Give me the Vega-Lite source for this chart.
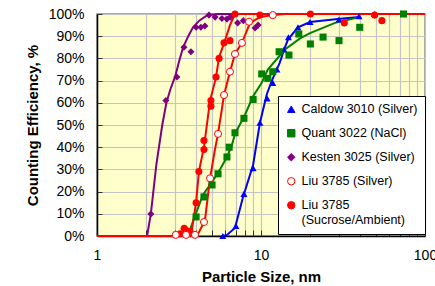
{
  "$schema": "https://vega.github.io/schema/vega-lite/v6.json",
  "autosize": "none",
  "width": 328,
  "height": 222,
  "padding": {"left": 97, "top": 14, "right": 10, "bottom": 50},
  "background": "white",
  "config": {
    "font": "Liberation Sans",
    "view": {"fill": "#FFFFCC", "stroke": "#8C8C8C", "strokeWidth": 1.5},
    "axis": {
      "labelFont": "Liberation Sans",
      "titleFont": "Liberation Sans",
      "labelFontSize": 14,
      "labelColor": "#000000",
      "titleFontSize": 15,
      "titleFontWeight": "bold",
      "titleColor": "#000000",
      "domainColor": "#000000",
      "domainWidth": 1.5,
      "tickColor": "#333333",
      "tickSize": -5,
      "labelPadding": 18,
      "gridColor": "#C4C4C4",
      "gridWidth": 1.2,
      "gridOpacity": 1
    },
    "legend": {
      "fillColor": "#FFFFFF",
      "strokeColor": "#000000",
      "padding": 7,
      "labelFont": "Liberation Sans",
      "labelFontSize": 12.5,
      "labelColor": "#000000",
      "labelLimit": 200,
      "rowPadding": 11,
      "symbolSize": 55,
      "symbolStrokeWidth": 1,
      "labelOffset": 4
    }
  },
  "datasets": {
    "pts": [
      {"s": "Caldow 3010 (Silver)", "x": 5.85, "y": 0},
      {"s": "Caldow 3010 (Silver)", "x": 7.03, "y": 4.5},
      {"s": "Caldow 3010 (Silver)", "x": 7.87, "y": 19},
      {"s": "Caldow 3010 (Silver)", "x": 8.95, "y": 30.6},
      {"s": "Caldow 3010 (Silver)", "x": 9.85, "y": 51},
      {"s": "Caldow 3010 (Silver)", "x": 10.9, "y": 62},
      {"s": "Caldow 3010 (Silver)", "x": 11.8, "y": 69},
      {"s": "Caldow 3010 (Silver)", "x": 12.5, "y": 75},
      {"s": "Caldow 3010 (Silver)", "x": 13.8, "y": 84},
      {"s": "Caldow 3010 (Silver)", "x": 14.7, "y": 89.5},
      {"s": "Caldow 3010 (Silver)", "x": 16.8, "y": 94},
      {"s": "Caldow 3010 (Silver)", "x": 19.9, "y": 96.4},
      {"s": "Caldow 3010 (Silver)", "x": 29.9, "y": 97.5},
      {"s": "Caldow 3010 (Silver)", "x": 39.6, "y": 99},
      {"s": "Caldow 3010 (Silver)", "x": 49.3, "y": 100},
      {"s": "Quant 3022 (NaCl)", "x": 4.02, "y": 8.6},
      {"s": "Quant 3022 (NaCl)", "x": 4.49, "y": 17.6},
      {"s": "Quant 3022 (NaCl)", "x": 5.03, "y": 23},
      {"s": "Quant 3022 (NaCl)", "x": 5.47, "y": 28},
      {"s": "Quant 3022 (NaCl)", "x": 6.2, "y": 35.6},
      {"s": "Quant 3022 (NaCl)", "x": 6.4, "y": 40},
      {"s": "Quant 3022 (NaCl)", "x": 6.94, "y": 46.5},
      {"s": "Quant 3022 (NaCl)", "x": 7.87, "y": 53},
      {"s": "Quant 3022 (NaCl)", "x": 8.95, "y": 61.5},
      {"s": "Quant 3022 (NaCl)", "x": 10.1, "y": 73},
      {"s": "Quant 3022 (NaCl)", "x": 11, "y": 71},
      {"s": "Quant 3022 (NaCl)", "x": 11.8, "y": 74},
      {"s": "Quant 3022 (NaCl)", "x": 12.9, "y": 83},
      {"s": "Quant 3022 (NaCl)", "x": 14.8, "y": 81.5},
      {"s": "Quant 3022 (NaCl)", "x": 17, "y": 91},
      {"s": "Quant 3022 (NaCl)", "x": 20, "y": 86.5},
      {"s": "Quant 3022 (NaCl)", "x": 23.9, "y": 89.6},
      {"s": "Quant 3022 (NaCl)", "x": 29.9, "y": 88},
      {"s": "Quant 3022 (NaCl)", "x": 40, "y": 94},
      {"s": "Quant 3022 (NaCl)", "x": 74, "y": 100},
      {"s": "Kesten 3025 (Silver)", "x": 2.13, "y": 9.9},
      {"s": "Kesten 3025 (Silver)", "x": 2.63, "y": 61},
      {"s": "Kesten 3025 (Silver)", "x": 3.07, "y": 71.6},
      {"s": "Kesten 3025 (Silver)", "x": 3.39, "y": 85},
      {"s": "Kesten 3025 (Silver)", "x": 3.74, "y": 83},
      {"s": "Kesten 3025 (Silver)", "x": 4.02, "y": 94},
      {"s": "Kesten 3025 (Silver)", "x": 4.3, "y": 94},
      {"s": "Kesten 3025 (Silver)", "x": 4.55, "y": 94.6},
      {"s": "Kesten 3025 (Silver)", "x": 4.82, "y": 99.5},
      {"s": "Kesten 3025 (Silver)", "x": 5.25, "y": 98.6},
      {"s": "Kesten 3025 (Silver)", "x": 5.78, "y": 98},
      {"s": "Kesten 3025 (Silver)", "x": 6.2, "y": 97.7},
      {"s": "Kesten 3025 (Silver)", "x": 6.5, "y": 98.6},
      {"s": "Kesten 3025 (Silver)", "x": 7.2, "y": 96},
      {"s": "Kesten 3025 (Silver)", "x": 7.8, "y": 97},
      {"s": "Kesten 3025 (Silver)", "x": 9.2, "y": 93.7},
      {"s": "Kesten 3025 (Silver)", "x": 9.6, "y": 95},
      {"s": "Kesten 3025 (Silver)", "x": 11.6, "y": 99.5},
      {"s": "Liu 3785 (Silver)", "x": 3.02, "y": 0.5},
      {"s": "Liu 3785 (Silver)", "x": 3.49, "y": 0.5},
      {"s": "Liu 3785 (Silver)", "x": 3.96, "y": 0.5},
      {"s": "Liu 3785 (Silver)", "x": 4.49, "y": 6.3},
      {"s": "Liu 3785 (Silver)", "x": 4.89, "y": 26},
      {"s": "Liu 3785 (Silver)", "x": 5.47, "y": 46},
      {"s": "Liu 3785 (Silver)", "x": 5.95, "y": 63.5},
      {"s": "Liu 3785 (Silver)", "x": 6.47, "y": 74},
      {"s": "Liu 3785 (Silver)", "x": 6.94, "y": 82},
      {"s": "Liu 3785 (Silver)", "x": 7.65, "y": 87},
      {"s": "Liu 3785 (Silver)", "x": 8.45, "y": 96.5},
      {"s": "Liu 3785 (Silver)", "x": 11.8, "y": 99.5},
      {"s": "Liu 3785 (Sucrose/Ambient)", "x": 3.21, "y": 1},
      {"s": "Liu 3785 (Sucrose/Ambient)", "x": 3.4, "y": 3.5},
      {"s": "Liu 3785 (Sucrose/Ambient)", "x": 3.49, "y": 2.5},
      {"s": "Liu 3785 (Sucrose/Ambient)", "x": 3.69, "y": 2},
      {"s": "Liu 3785 (Sucrose/Ambient)", "x": 4.02, "y": 15},
      {"s": "Liu 3785 (Sucrose/Ambient)", "x": 4.18, "y": 29},
      {"s": "Liu 3785 (Sucrose/Ambient)", "x": 4.49, "y": 39},
      {"s": "Liu 3785 (Sucrose/Ambient)", "x": 4.49, "y": 43},
      {"s": "Liu 3785 (Sucrose/Ambient)", "x": 4.95, "y": 58.5},
      {"s": "Liu 3785 (Sucrose/Ambient)", "x": 4.95, "y": 61},
      {"s": "Liu 3785 (Sucrose/Ambient)", "x": 5.32, "y": 71.6},
      {"s": "Liu 3785 (Sucrose/Ambient)", "x": 5.55, "y": 80},
      {"s": "Liu 3785 (Sucrose/Ambient)", "x": 5.95, "y": 87},
      {"s": "Liu 3785 (Sucrose/Ambient)", "x": 6.47, "y": 88},
      {"s": "Liu 3785 (Sucrose/Ambient)", "x": 6.94, "y": 100},
      {"s": "Liu 3785 (Sucrose/Ambient)", "x": 9.85, "y": 99.5},
      {"s": "Liu 3785 (Sucrose/Ambient)", "x": 20, "y": 100},
      {"s": "Liu 3785 (Sucrose/Ambient)", "x": 32.2, "y": 96},
      {"s": "Liu 3785 (Sucrose/Ambient)", "x": 49.3, "y": 99.5},
      {"s": "Liu 3785 (Sucrose/Ambient)", "x": 54.6, "y": 97}
    ],
    "fits": [
      {"s": "Caldow 3010 (Silver)", "x": 5.85, "y": 0},
      {"s": "Caldow 3010 (Silver)", "x": 6.2, "y": 0.5},
      {"s": "Caldow 3010 (Silver)", "x": 6.94, "y": 3.6},
      {"s": "Caldow 3010 (Silver)", "x": 7.77, "y": 17.6},
      {"s": "Caldow 3010 (Silver)", "x": 8.95, "y": 32},
      {"s": "Caldow 3010 (Silver)", "x": 9.85, "y": 51},
      {"s": "Caldow 3010 (Silver)", "x": 10.86, "y": 64},
      {"s": "Caldow 3010 (Silver)", "x": 11.65, "y": 70},
      {"s": "Caldow 3010 (Silver)", "x": 13, "y": 78},
      {"s": "Caldow 3010 (Silver)", "x": 14, "y": 85},
      {"s": "Caldow 3010 (Silver)", "x": 14.6, "y": 88.5},
      {"s": "Caldow 3010 (Silver)", "x": 16.8, "y": 94},
      {"s": "Caldow 3010 (Silver)", "x": 19.9, "y": 96.4},
      {"s": "Caldow 3010 (Silver)", "x": 29.4, "y": 97.7},
      {"s": "Caldow 3010 (Silver)", "x": 39.6, "y": 98.6},
      {"s": "Quant 3022 (NaCl)", "x": 3.5, "y": 0},
      {"s": "Quant 3022 (NaCl)", "x": 3.59, "y": 0.5},
      {"s": "Quant 3022 (NaCl)", "x": 3.96, "y": 9},
      {"s": "Quant 3022 (NaCl)", "x": 4.42, "y": 18.5},
      {"s": "Quant 3022 (NaCl)", "x": 4.89, "y": 23},
      {"s": "Quant 3022 (NaCl)", "x": 5.47, "y": 28.4},
      {"s": "Quant 3022 (NaCl)", "x": 6.2, "y": 35.6},
      {"s": "Quant 3022 (NaCl)", "x": 6.65, "y": 41},
      {"s": "Quant 3022 (NaCl)", "x": 6.94, "y": 46},
      {"s": "Quant 3022 (NaCl)", "x": 7.98, "y": 54.5},
      {"s": "Quant 3022 (NaCl)", "x": 8.95, "y": 63},
      {"s": "Quant 3022 (NaCl)", "x": 10.1, "y": 69},
      {"s": "Quant 3022 (NaCl)", "x": 11, "y": 75},
      {"s": "Quant 3022 (NaCl)", "x": 14, "y": 84},
      {"s": "Quant 3022 (NaCl)", "x": 17.3, "y": 89},
      {"s": "Quant 3022 (NaCl)", "x": 19.9, "y": 91.4},
      {"s": "Quant 3022 (NaCl)", "x": 28.3, "y": 96},
      {"s": "Quant 3022 (NaCl)", "x": 40, "y": 98.6},
      {"s": "Kesten 3025 (Silver)", "x": 2.02, "y": 0},
      {"s": "Kesten 3025 (Silver)", "x": 2.13, "y": 10},
      {"s": "Kesten 3025 (Silver)", "x": 2.3, "y": 32},
      {"s": "Kesten 3025 (Silver)", "x": 2.5, "y": 50},
      {"s": "Kesten 3025 (Silver)", "x": 2.65, "y": 60},
      {"s": "Kesten 3025 (Silver)", "x": 2.8, "y": 66},
      {"s": "Kesten 3025 (Silver)", "x": 3.0, "y": 72},
      {"s": "Kesten 3025 (Silver)", "x": 3.15, "y": 78},
      {"s": "Kesten 3025 (Silver)", "x": 3.35, "y": 85},
      {"s": "Kesten 3025 (Silver)", "x": 3.6, "y": 90},
      {"s": "Kesten 3025 (Silver)", "x": 3.85, "y": 94},
      {"s": "Kesten 3025 (Silver)", "x": 4.2, "y": 97},
      {"s": "Kesten 3025 (Silver)", "x": 4.7, "y": 99.5},
      {"s": "Kesten 3025 (Silver)", "x": 5.5, "y": 100},
      {"s": "Kesten 3025 (Silver)", "x": 100, "y": 100},
      {"s": "Liu 3785 (Silver)", "x": 1, "y": 0},
      {"s": "Liu 3785 (Silver)", "x": 3.9, "y": 0},
      {"s": "Liu 3785 (Silver)", "x": 4.1, "y": 0.5},
      {"s": "Liu 3785 (Silver)", "x": 4.55, "y": 7},
      {"s": "Liu 3785 (Silver)", "x": 4.89, "y": 26},
      {"s": "Liu 3785 (Silver)", "x": 5.24, "y": 39},
      {"s": "Liu 3785 (Silver)", "x": 5.47, "y": 46},
      {"s": "Liu 3785 (Silver)", "x": 5.95, "y": 63.5},
      {"s": "Liu 3785 (Silver)", "x": 6.47, "y": 74},
      {"s": "Liu 3785 (Silver)", "x": 6.94, "y": 82},
      {"s": "Liu 3785 (Silver)", "x": 7.65, "y": 87},
      {"s": "Liu 3785 (Silver)", "x": 8.57, "y": 96},
      {"s": "Liu 3785 (Silver)", "x": 9.85, "y": 98.6},
      {"s": "Liu 3785 (Silver)", "x": 11.8, "y": 99.5},
      {"s": "Liu 3785 (Silver)", "x": 14, "y": 100},
      {"s": "Liu 3785 (Silver)", "x": 100, "y": 100},
      {"s": "Liu 3785 (Sucrose/Ambient)", "x": 1, "y": 0},
      {"s": "Liu 3785 (Sucrose/Ambient)", "x": 3.2, "y": 0},
      {"s": "Liu 3785 (Sucrose/Ambient)", "x": 3.5, "y": 1},
      {"s": "Liu 3785 (Sucrose/Ambient)", "x": 3.79, "y": 3},
      {"s": "Liu 3785 (Sucrose/Ambient)", "x": 4.02, "y": 15},
      {"s": "Liu 3785 (Sucrose/Ambient)", "x": 4.18, "y": 29},
      {"s": "Liu 3785 (Sucrose/Ambient)", "x": 4.49, "y": 40},
      {"s": "Liu 3785 (Sucrose/Ambient)", "x": 4.89, "y": 61},
      {"s": "Liu 3785 (Sucrose/Ambient)", "x": 5.3, "y": 71},
      {"s": "Liu 3785 (Sucrose/Ambient)", "x": 5.55, "y": 80.5},
      {"s": "Liu 3785 (Sucrose/Ambient)", "x": 6.03, "y": 88},
      {"s": "Liu 3785 (Sucrose/Ambient)", "x": 6.47, "y": 95},
      {"s": "Liu 3785 (Sucrose/Ambient)", "x": 6.94, "y": 100},
      {"s": "Liu 3785 (Sucrose/Ambient)", "x": 100, "y": 100}
    ]
  },
  "encoding": {
    "x": {
      "field": "x", "type": "quantitative",
      "scale": {"type": "log", "domain": [1, 100]},
      "axis": {
        "title": "Particle Size, nm",
        "titleX": 164, "titleY": 40, "titleBaseline": "middle",
        "values": [1, 2, 3, 4, 5, 6, 7, 8, 9, 10, 20, 30, 40, 50, 60, 70, 80, 90, 100],
        "labelExpr": "datum.value == 1 || datum.value == 10 || datum.value == 100 ? datum.value : ''",
        "labelFlush": false,
        "labelOverlap": false,
        "labelBaseline": "top",
        "tickSize": -6
      }
    },
    "y": {
      "field": "y", "type": "quantitative",
      "scale": {"domain": [0, 100], "nice": false},
      "axis": {
        "title": "Counting Efficiency, %",
        "titleX": -65, "titleY": 111, "titleAngle": -90, "titleBaseline": "middle", "titleAlign": "center",
        "values": [0, 10, 20, 30, 40, 50, 60, 70, 80, 90, 100],
        "labelExpr": "datum.value + '%'",
        "labelFlush": false,
        "labelOverlap": false,
        "labelBaseline": "middle"
      }
    },
    "color": {
      "field": "s", "type": "nominal",
      "scale": {
        "domain": ["Caldow 3010 (Silver)", "Quant 3022 (NaCl)", "Kesten 3025 (Silver)", "Liu 3785 (Silver)", "Liu 3785 (Sucrose/Ambient)"],
        "range": ["#0000FF", "#008000", "#800080", "#FF0000", "#FF0000"]
      },
      "legend": {
        "title": null,
        "orient": "none",
        "legendX": 181,
        "legendY": 82,
        "labelExpr": "datum.label == 'Liu 3785 (Sucrose/Ambient)' ? ['Liu 3785', '(Sucrose/Ambient)'] : datum.label",
        "symbolType": "circle",
        "encode": {
          "symbols": {
            "update": {
              "fill": {"signal": "datum.label == 'Liu 3785 (Silver)' ? '#FFFFFF' : scale('color', datum.value)"},
              "fillOpacity": {"signal": "datum.label == 'Liu 3785 (Silver)' ? 0 : 1"},
              "stroke": {"signal": "scale('color', datum.value)"},
              "shape": {"signal": "datum.label == 'Caldow 3010 (Silver)' ? 'triangle-up' : datum.label == 'Quant 3022 (NaCl)' ? 'square' : datum.label == 'Kesten 3025 (Silver)' ? 'diamond' : 'circle'"}
            }
          }
        }
      }
    }
  },
  "layer": [
    {
      "data": {"name": "fits"},
      "mark": {"type": "line", "strokeWidth": 2, "clip": false},
      "encoding": {
        "order": {"field": "x", "type": "quantitative"}
      }
    },
    {
      "data": {"name": "pts"},
      "transform": [{"filter": "datum.s != 'Liu 3785 (Silver)'"}],
      "mark": {"type": "point", "filled": true, "strokeWidth": 1, "size": 50, "opacity": 1, "clip": false},
      "encoding": {
        "shape": {
          "field": "s", "type": "nominal",
          "scale": {
            "domain": ["Caldow 3010 (Silver)", "Quant 3022 (NaCl)", "Kesten 3025 (Silver)", "Liu 3785 (Silver)", "Liu 3785 (Sucrose/Ambient)"],
            "range": ["triangle-up", "square", "diamond", "circle", "circle"]
          },
          "legend": null
        }
      }
    },
    {
      "data": {"name": "pts"},
      "transform": [{"filter": "datum.s == 'Liu 3785 (Silver)'"}],
      "mark": {"type": "point", "shape": "circle", "filled": false, "fill": "#FFFFFF", "strokeWidth": 1, "size": 50, "opacity": 1, "fillOpacity": 1, "clip": false},
      "encoding": {}
    }
  ]
}
